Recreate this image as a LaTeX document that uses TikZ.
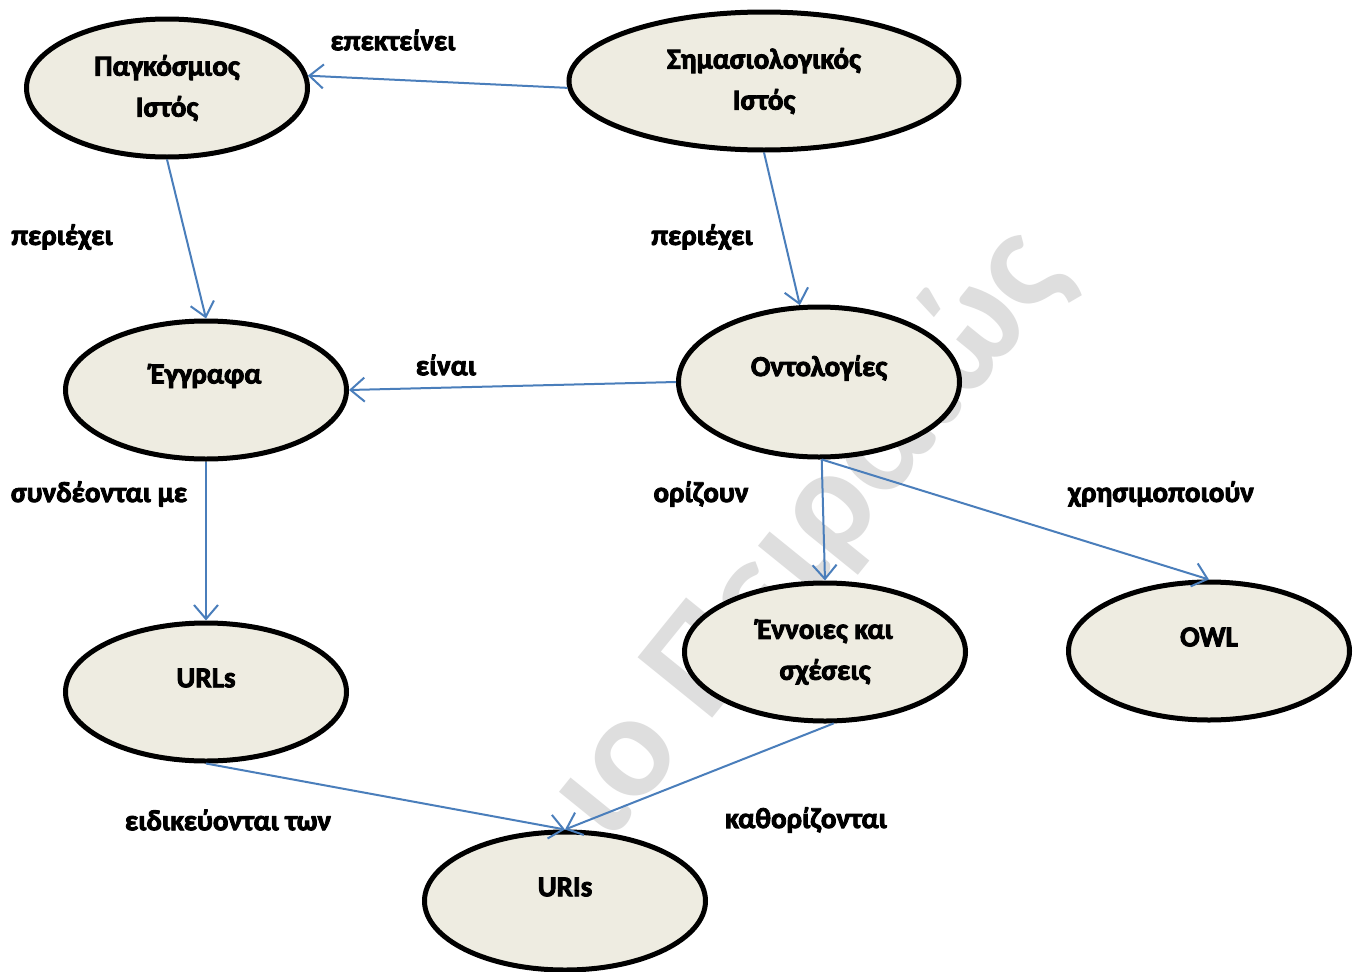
\documentclass[tikz,border=0pt]{standalone}
\usepackage{fontspec}
\setmainfont{Carlito}[BoldFeatures={FakeBold=3}]
\newfontfamily\wmfont{Carlito}
\usetikzlibrary{shapes.geometric,arrows.meta}
\definecolor{blobfill}{HTML}{EEECE1}
\definecolor{linkblue}{HTML}{4A7EBB}
\definecolor{wmgray}{HTML}{DEDEDE}
\tikzset{
  blob/.style={ellipse, draw=black, line width=5pt, fill=blobfill,
    minimum width=281pt, minimum height=138pt, inner sep=0pt,
    align=center, font=\bfseries\fontsize{29}{41}\selectfont},
  inlbl/.style={font=\bfseries\fontsize{29}{41}\selectfont, yshift=14pt},
  rel/.style={font=\bfseries\fontsize{29}{33}\selectfont, inner sep=0pt},
  link/.style={draw=linkblue, line width=2pt,
    -{Straight Barb[length=14pt,width=24pt,line width=2pt]}},
  wmark/.style={font=\wmfont\bfseries\fontsize{148}{148}\selectfont, text=wmgray,
    rotate=51, inner sep=0pt}
}
\begin{document}
\begin{tikzpicture}[x=1pt,y=-1pt]
\useasboundingbox[fill=white] (0,0) rectangle (1358,972);

% watermark behind everything
\node[wmark] (wm) at (808,534) {ιο Πειραιώς};

% concepts
\node[blob] (pag) at (167,88) {Παγκόσμιος\\Ιστός};
\node[blob, minimum width=390pt] (sim) at (764,81) {Σημασιολογικός\\Ιστός};
\node[blob, label={[inlbl]center:Έγγραφα}] (egr) at (206,390) {};
\node[blob, minimum height=150pt, label={[inlbl]center:Οντολογίες}] (ont) at (819,382) {};
\node[blob, label={[inlbl]center:URLs}] (urls) at (206,692) {};
\node[blob] (enn) at (825,652) {Έννοιες και\\σχέσεις};
\node[blob, label={[inlbl]center:OWL}] (owl) at (1209,651) {};
\node[blob, label={[inlbl]center:URIs}] (uris) at (565,901) {};

% relations
\draw[link] (sim.182) -- (pag.5);
\draw[link] (pag.south) -- (egr.north);
\draw[link] (sim.south) -- (ont.104);
\draw[link] (ont.west) -- (egr.east);
\draw[link] (egr.south) -- (urls.north);
\draw[link] (ont.-88) -- (enn.north);
\draw[link] (ont.-88) -- (owl.north);
\draw[link] (urls.south) -- (uris.north);
\draw[link] (enn.-83) -- (uris.north);

% relation labels
\node[rel] (l1) at (393,40) {επεκτείνει};
\node[rel] (l2) at (62,237) {περιέχει};
\node[rel] (l3) at (702,237) {περιέχει};
\node[rel] (l4) at (446,365) {είναι};
\node[rel] (l5) at (99,494) {συνδέονται με};
\node[rel] (l6) at (701,494) {ορίζουν};
\node[rel] (l7) at (1161,494) {χρησιμοποιούν};
\node[rel] (l8) at (228,820) {ειδικεύονται των};
\node[rel] (l9) at (806,820) {καθορίζονται};
\end{tikzpicture}
\end{document}
